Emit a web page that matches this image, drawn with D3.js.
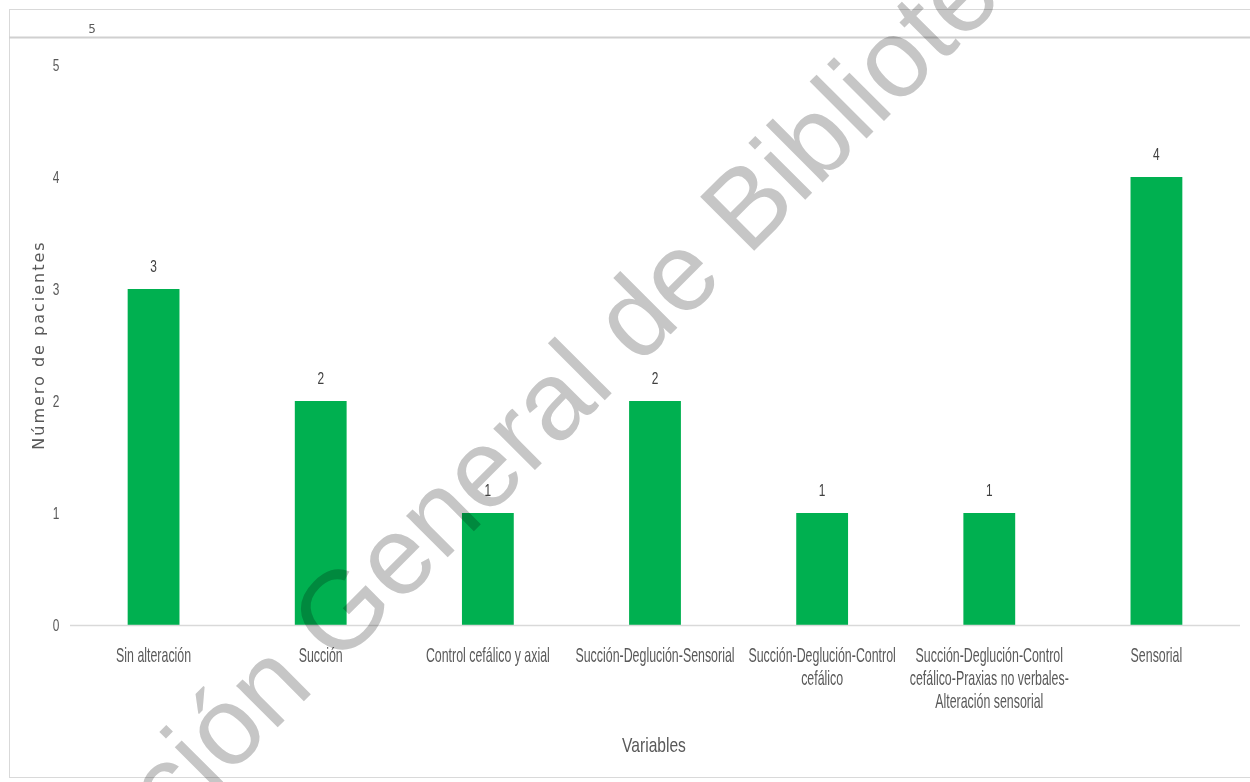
<!DOCTYPE html>
<html>
<head>
<meta charset="utf-8">
<script src="https://cdn.jsdelivr.net/npm/d3@7"></script>
<style>
  body { margin: 0; background: #fff; }
  text { font-family: "Liberation Sans", Arial, sans-serif; }
</style>
</head>
<body>
<svg width="1250" height="782"></svg>
<script>
// chart values
const categories = [
    ["Sin alteración"],
    ["Succión"],
    ["Control cefálico y axial"],
    ["Succión-Deglución-Sensorial"],
    ["Succión-Deglución-Control", "cefálico"],
    ["Succión-Deglución-Control", "cefálico-Praxias no verbales-", "Alteración sensorial"],
    ["Sensorial"]
];
const pacientes = [3, 2, 1, 2, 1, 1, 4];
const yTicks = [0, 1, 2, 3, 4, 5];

const svg = d3.select("svg");
const width = +svg.attr("width");
const height = +svg.attr("height");
const margin = { top: 65, right: 10, bottom: 157, left: 70 };
const textGray = "#595959";

// narrow text: regular font squeezed horizontally (the source uses a condensed face)
function narrowText(parent, cx, cy, size, sx, color, lines, lineH) {
    const g = parent.append("g")
        .attr("transform", `translate(${cx},${cy}) scale(${sx},1)`);
    const t = g.append("text")
        .attr("text-anchor", "middle")
        .style("font-size", size + "px")
        .style("fill", color);
    [].concat(lines).forEach((l, j) => {
        t.append("tspan").attr("x", 0).attr("y", j * (lineH || 0)).text(l);
    });
    return g;
}

// outer frame and top strip
svg.append("rect")
    .attr("x", 9.5).attr("y", 9.5)
    .attr("width", width).attr("height", 768)
    .attr("fill", "none").attr("stroke", "#d9d9d9");
svg.append("line")
    .attr("x1", 9).attr("x2", width)
    .attr("y1", 37.5).attr("y2", 37.5)
    .attr("stroke", "#d0d0d0").attr("stroke-width", 2);
svg.append("text")
    .attr("x", 92).attr("y", 33)
    .attr("text-anchor", "middle")
    .style("font-family", "DejaVu Sans, sans-serif")
    .style("font-size", "12px")
    .style("fill", textGray)
    .text("5");

const x = d3.scaleBand()
    .domain(d3.range(categories.length))
    .range([margin.left, width - margin.right])
    .paddingInner(0.69)
    .paddingOuter(0.345);

const y = d3.scaleLinear()
    .domain([0, 5])
    .range([height - margin.bottom, margin.top]);

// Y tick labels (no gridlines)
yTicks.forEach(d => narrowText(svg, 56, y(d) + 6, 17, 0.7, textGray, String(d)));

// Bars
svg.selectAll("rect.bar")
    .data(pacientes)
    .enter().append("rect")
    .attr("class", "bar")
    .attr("x", (d, i) => x(i))
    .attr("y", d => y(d))
    .attr("width", x.bandwidth())
    .attr("height", d => y(0) - y(d))
    .attr("fill", "#00b050");

// Baseline
svg.append("line")
    .attr("x1", margin.left)
    .attr("x2", width - margin.right)
    .attr("y1", y(0) + 0.5)
    .attr("y2", y(0) + 0.5)
    .attr("stroke", "#d9d9d9")
    .attr("stroke-width", 1.5);

// Data labels
pacientes.forEach((d, i) =>
    narrowText(svg, x(i) + x.bandwidth() / 2, y(d) - 17, 17, 0.7, "#404040", String(d)));

// Category labels
categories.forEach((lines, i) =>
    narrowText(svg, x(i) + x.bandwidth() / 2, 662, 20, 0.62, textGray, lines, 23));

// X-Axis Label
narrowText(svg, 654, 752, 20, 0.78, textGray, "Variables");

// Y-Axis Label
svg.append("text")
    .attr("transform", "rotate(-90)")
    .attr("x", -345)
    .attr("y", 44)
    .attr("text-anchor", "middle")
    .style("font-family", "DejaVu Sans, sans-serif")
    .style("font-size", "16px")
    .style("letter-spacing", "2px")
    .style("fill", textGray)
    .text("Número de pacientes");

// Watermark
svg.append("text")
    .attr("transform", "translate(558,447) rotate(-45)")
    .attr("text-anchor", "middle")
    .style("font-size", "111px")
    .style("fill", "#c6c6c6")
    .style("mix-blend-mode", "multiply")
    .text("Dirección General de Bibliotecas");
</script>
</body>
</html>
